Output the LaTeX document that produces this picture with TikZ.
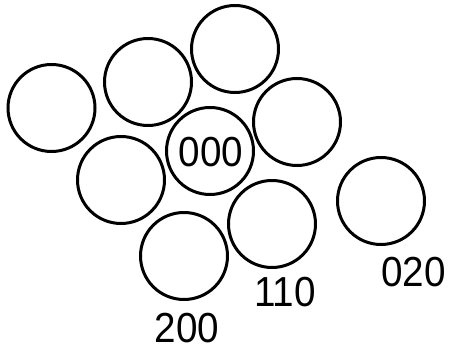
\documentclass[tikz,border=0pt]{standalone}
\usepackage{fontspec}
\setmainfont{Liberation Sans}
\newfontfamily\digfont[FakeStretch=0.92]{Liberation Sans}
\begin{document}
\begin{tikzpicture}[x=1pt,y=-1pt,
  spot/.style={circle,draw=black,line width=3pt,minimum size=87pt,inner sep=0pt},
  idx/.style={font=\digfont\fontsize{42}{42}\selectfont,inner sep=0pt,anchor=base}]
\useasboundingbox (0,0) rectangle (456,350);
\node[spot] (a) at (51.5,108) {};
\node[spot] (b) at (148,82) {};
\node[spot] (c) at (235,49) {};
\node[spot] (d) at (297,122) {};
\node[spot] (e) at (121,180) {};
\node[spot] (o) at (210,151) {};
\node[spot] (f) at (272,224) {};
\node[spot] (g) at (184,256) {};
\node[spot] (h) at (381,201) {};
\node[idx] (lo) at (211,166.5) {000};
\node[idx] (l1) at (285,307) {110};
\node[idx] (l2) at (187,342.5) {200};
\node[idx] (l3) at (413.5,286.5) {020};
\end{tikzpicture}
\end{document}
